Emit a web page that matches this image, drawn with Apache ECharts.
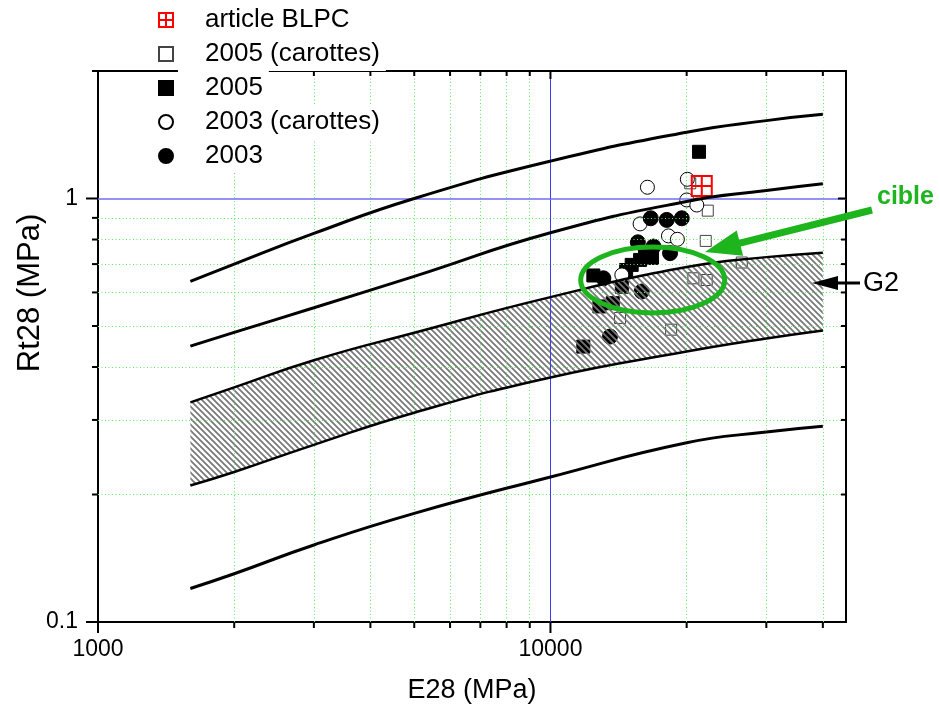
<!DOCTYPE html>
<html>
<head>
<meta charset="utf-8">
<title>Rt28 / E28</title>
<script src="https://cdn.jsdelivr.net/npm/echarts@6/dist/echarts.min.js"></script>
<style>
  html, body { margin: 0; padding: 0; background: #fff; }
  #chart { width: 940px; height: 708px; }
</style>
</head>
<body>
<div id="chart"></div>
<script>
// E28 (MPa) where the model curves are sampled
const curveE = [1600, 2000, 3000, 5000, 10000, 20000, 30000, 40000];
// Rt28 (MPa) of each curve, top to bottom
const curve1 = [0.637, 0.700, 0.827, 1.000, 1.225, 1.434, 1.527, 1.580];
const curve2 = [0.448, 0.483, 0.552, 0.655, 0.830, 0.984, 1.044, 1.083];
const bandUpper = [0.330, 0.358, 0.415, 0.482, 0.585, 0.689, 0.727, 0.745];
const bandLower = [0.210, 0.226, 0.262, 0.312, 0.378, 0.435, 0.467, 0.488];
const curve5 = [0.120, 0.130, 0.152, 0.1805, 0.220, 0.265, 0.281, 0.290];

// measured points [E28, Rt28]
const articleBLPC = [[21600, 1.070]];
const carottes2005 = [
    [20370, 1.086], [22270, 0.936], [22040, 0.794], [26480, 0.706],
    [20700, 0.648], [22150, 0.642], [18480, 0.490], [14250, 0.522]
];
const points2005 = [
    [21300, 1.289], [12440, 0.658], [15120, 0.697], [15780, 0.716],
    [16190, 0.736], [16770, 0.724], [14700, 0.678], [11820, 0.447],
    [12830, 0.556], [13730, 0.566], [14380, 0.619]
];
const carottes2003 = [
    [16380, 1.063], [20070, 1.110], [20010, 0.992], [21060, 0.965],
    [15780, 0.871], [18230, 0.816], [19080, 0.801], [14380, 0.660]
];
const points2003 = [
    [16660, 0.898], [18070, 0.890], [19510, 0.898], [15600, 0.788],
    [16890, 0.770], [18380, 0.743], [13090, 0.648], [15910, 0.603],
    [13540, 0.472]
];

const xMajorTicks = [1000, 10000];
const xMinorTicks = [2000, 3000, 4000, 5000, 6000, 7000, 8000, 9000, 20000, 30000, 40000];
const yMajorTicks = [0.1, 1];
const yMinorTicks = [0.2, 0.3, 0.4, 0.5, 0.6, 0.7, 0.8, 0.9, 2];
const xGridLines = [2000, 3000, 4000, 5000, 6000, 7000, 8000, 9000, 20000, 30000, 40000];
const yGridLines = [0.2, 0.3, 0.4, 0.5, 0.6, 0.7, 0.8, 0.9];

const FONT = 'Liberation Sans, Arial, sans-serif';
const GREEN = '#1db41d';

const pair = (xs, ys) => xs.map((x, i) => [x, ys[i]]);

// diagonal hatch used for the G2 band
function hatchPattern() {
    const s = 6;
    const c = document.createElement('canvas');
    c.width = s; c.height = s;
    const g = c.getContext('2d');
    g.strokeStyle = '#777777';
    g.lineWidth = 1.7;
    g.beginPath();
    g.moveTo(-1, -1); g.lineTo(s + 1, s + 1);
    g.moveTo(-1, s - 1); g.lineTo(1, s + 1);
    g.moveTo(s - 1, -1); g.lineTo(s + 1, 1);
    g.stroke();
    return { image: c, repeat: 'repeat' };
}
const hatch = hatchPattern();

const clamp = (v, a, b) => Math.min(Math.max(v, Math.min(a, b)), Math.max(a, b));

// same bezier smoothing as line series with smooth: true
function smoothPath(pts, smooth, first) {
    let d = '';
    let cx0, cy0;
    for (let i = 0; i < pts.length; i++) {
        const x = pts[i][0], y = pts[i][1];
        if (i === 0) {
            d += (first ? 'M' : 'L') + x + ',' + y;
            cx0 = x; cy0 = y;
            continue;
        }
        const px = pts[i - 1][0], py = pts[i - 1][1];
        let cx1 = x, cy1 = y, ncx = x, ncy = y;
        if (i < pts.length - 1) {
            const nx = pts[i + 1][0], ny = pts[i + 1][1];
            const l0 = Math.hypot(x - px, y - py);
            const l1 = Math.hypot(nx - x, ny - y);
            const r = l1 / (l0 + l1);
            let vx = nx - px, vy = ny - py;
            ncx = clamp(x + vx * smooth * r, nx, x);
            ncy = clamp(y + vy * smooth * r, ny, y);
            vx = ncx - x; vy = ncy - y;
            cx1 = clamp(x - vx * l0 / l1, px, x);
            cy1 = clamp(y - vy * l0 / l1, py, y);
            vx = x - cx1; vy = y - cy1;
            ncx = x + vx * l1 / l0;
            ncy = y + vy * l1 / l0;
        }
        d += 'C' + cx0 + ',' + cy0 + ',' + cx1 + ',' + cy1 + ',' + x + ',' + y;
        cx0 = ncx; cy0 = ncy;
    }
    return d;
}

// tick marks on all four sides: [x, y, length, orient] orient 0 = vertical, 1 = horizontal
const tickData = [];
xMajorTicks.forEach(v => { tickData.push([v, 0.1, 11, 0]); tickData.push([v, 2, 8, 0]); });
xMinorTicks.forEach(v => { tickData.push([v, 0.1, 6, 0]); tickData.push([v, 2, 5, 0]); });
yMajorTicks.forEach(v => { tickData.push([1000, v, 12, 1]); tickData.push([45000, v, 8, 1]); });
yMinorTicks.forEach(v => { tickData.push([1000, v, 6, 1]); tickData.push([45000, v, 5, 1]); });

const curveLine = (name, ys, width) => ({
    name: name,
    type: 'line',
    data: pair(curveE, ys),
    smooth: true,
    showSymbol: false,
    symbol: 'none',
    lineStyle: { color: '#000', width: width },
    z: 6,
    silent: true
});

const pointStyle = (fill, border) => ({ color: fill, borderColor: border, borderWidth: 1, opacity: 1 });

const option = {
    animation: false,
    backgroundColor: '#fff',
    textStyle: { fontFamily: FONT },
    grid: {
        left: 98, right: 94, top: 71, bottom: 86,
        outerBoundsMode: 'none',
        containLabel: false,
        show: true,
        borderColor: '#000',
        borderWidth: 2,
        backgroundColor: 'transparent'
    },
    legend: {
        orient: 'vertical',
        left: 158,
        top: 3,
        padding: 0,
        itemGap: 0,
        itemWidth: 14,
        itemHeight: 14,
        selectedMode: false,
        z: 8,
        data: ['article BLPC', '2005 (carottes)', '2005', '2003 (carottes)', '2003'],
        textStyle: {
            fontFamily: FONT,
            fontSize: 26,
            color: '#000',
            backgroundColor: '#fff',
            padding: [4, 6, 4, 27]
        }
    },
    xAxis: {
        type: 'log',
        logBase: 10,
        min: 1000,
        max: 45000,
        name: 'E28 (MPa)',
        nameLocation: 'middle',
        nameGap: 55,
        nameTextStyle: { fontFamily: FONT, fontSize: 27, color: '#000' },
        axisLine: { show: true, lineStyle: { color: '#000', width: 2 } },
        axisTick: { show: false },
        splitLine: { show: false },
        axisLabel: {
            fontFamily: FONT, fontSize: 23, color: '#000', margin: 16,
            showMaxLabel: false,
            formatter: v => String(Number((+v).toPrecision(2)))
        }
    },
    yAxis: {
        type: 'log',
        logBase: 10,
        min: 0.1,
        max: 2,
        axisLine: { show: true, lineStyle: { color: '#000', width: 2 } },
        axisTick: { show: false },
        splitLine: { show: false },
        axisLabel: {
            fontFamily: FONT, fontSize: 23, color: '#000', margin: 20,
            showMaxLabel: false,
            formatter: v => String(Number((+v).toPrecision(2)))
        }
    },
    series: [
        {
            name: 'gridlines',
            type: 'line',
            data: [[1000, 0.1]],
            symbol: 'none',
            lineStyle: { width: 0 },
            z: 1,
            silent: true,
            markLine: {
                silent: true,
                symbol: ['none', 'none'],
                label: { show: false },
                animation: false,
                lineStyle: { color: '#5fe85f', width: 1, type: [1, 2.5] },
                data: xGridLines.map(v => ({ xAxis: v }))
                    .concat(yGridLines.map(v => ({ yAxis: v })))
                    .concat([
                        { xAxis: 10000, lineStyle: { color: '#3c3cf5', width: 1, type: 'solid' } },
                        { yAxis: 1, lineStyle: { color: '#6f6ff0', width: 1.6, type: 'solid' } }
                    ])
            }
        },
        {
            name: '2005 (carottes)',
            type: 'scatter',
            data: carottes2005,
            symbol: 'rect',
            symbolSize: 11,
            itemStyle: pointStyle('#fff', '#444'),
            z: 2
        },
        {
            name: '2005',
            type: 'scatter',
            data: points2005,
            symbol: 'rect',
            symbolSize: 13,
            itemStyle: pointStyle('#000', '#000'),
            z: 2
        },
        {
            name: '2003 (carottes)',
            type: 'scatter',
            data: carottes2003,
            symbol: 'circle',
            symbolSize: 14,
            itemStyle: pointStyle('#fff', '#000'),
            z: 2
        },
        {
            name: '2003',
            type: 'scatter',
            data: points2003,
            symbol: 'circle',
            symbolSize: 15,
            itemStyle: pointStyle('#000', '#000'),
            z: 2
        },
        {
            name: 'article BLPC',
            type: 'scatter',
            data: articleBLPC,
            symbol: 'path://M0,0H20V20H0ZM10,0V20M0,10H20',
            symbolSize: 20,
            itemStyle: { color: 'rgba(255,255,255,0)', borderColor: '#ff0000', borderWidth: 2, opacity: 1 },
            z: 3
        },
        {
            name: 'G2 band',
            type: 'custom',
            coordinateSystem: 'cartesian2d',
            data: [[curveE[0], bandUpper[0]]],
            clip: false,
            silent: true,
            z: 4,
            renderItem: (params, api) => {
                const up = curveE.map((e, i) => api.coord([e, bandUpper[i]]));
                const lo = curveE.map((e, i) => api.coord([e, bandLower[i]])).reverse();
                const d = smoothPath(up, 0.5, true) + smoothPath(lo, 0.5, false) + 'Z';
                return { type: 'path', shape: { pathData: d }, style: { fill: hatch, stroke: null } };
            }
        },
        curveLine('curve 1', curve1, 3),
        curveLine('curve 2', curve2, 3),
        curveLine('band upper', bandUpper, 2.5),
        curveLine('band lower', bandLower, 2.5),
        curveLine('curve 5', curve5, 3),
        {
            name: 'ticks',
            type: 'custom',
            coordinateSystem: 'cartesian2d',
            data: tickData,
            encode: { x: 0, y: 1 },
            clip: false,
            silent: true,
            z: 7,
            renderItem: (params, api) => {
                const p = api.coord([api.value(0), api.value(1)]);
                const len = api.value(2);
                const horiz = api.value(3) === 1;
                return {
                    type: 'line',
                    shape: horiz
                        ? { x1: p[0] - len, y1: p[1], x2: p[0], y2: p[1] }
                        : { x1: p[0], y1: p[1], x2: p[0], y2: p[1] + len },
                    style: { stroke: '#000', lineWidth: 2 }
                };
            }
        }
    ]
};

// annotations: cible ellipse + arrows, G2 label, y axis title
const tip = [705, 252], tail = [872, 210];
const ux = (tip[0] - tail[0]), uy = (tip[1] - tail[1]);
const ul = Math.hypot(ux, uy);
const dx = ux / ul, dy = uy / ul;
const headLen = 36, headHalf = 13;
const base = [tip[0] - dx * headLen, tip[1] - dy * headLen];

option.graphic = [
    {
        type: 'text', x: 30, y: 293, rotation: Math.PI / 2,
        style: {
            text: 'Rt28 (MPa)', fontFamily: FONT, fontSize: 31, fill: '#000',
            textAlign: 'center', textVerticalAlign: 'middle', align: 'center', verticalAlign: 'middle'
        }
    },
    {
        type: 'ellipse', z: 100,
        shape: { cx: 652.7, cy: 280, rx: 72, ry: 33 },
        style: { fill: null, stroke: GREEN, lineWidth: 5 }
    },
    {
        type: 'line', z: 100,
        shape: { x1: tail[0], y1: tail[1], x2: base[0] + dx * 2, y2: base[1] + dy * 2 },
        style: { stroke: GREEN, lineWidth: 7 }
    },
    {
        type: 'polygon', z: 100,
        shape: {
            points: [
                tip,
                [base[0] - dy * headHalf, base[1] + dx * headHalf],
                [base[0] + dy * headHalf, base[1] - dx * headHalf]
            ]
        },
        style: { fill: GREEN }
    },
    {
        type: 'text', x: 877, y: 197, z: 100,
        style: {
            text: 'cible', fontFamily: FONT, fontSize: 25, fontWeight: 'bold', fill: GREEN,
            textVerticalAlign: 'middle', verticalAlign: 'middle'
        }
    },
    {
        type: 'line', z: 100,
        shape: { x1: 860, y1: 283, x2: 834, y2: 283 },
        style: { stroke: '#000', lineWidth: 3 }
    },
    {
        type: 'polygon', z: 100,
        shape: { points: [[812, 283], [838, 276], [838, 290]] },
        style: { fill: '#000' }
    },
    {
        type: 'text', x: 863, y: 284, z: 100,
        style: {
            text: 'G2', fontFamily: FONT, fontSize: 27, fill: '#000',
            textVerticalAlign: 'middle', verticalAlign: 'middle'
        }
    }
];

const myChart = echarts.init(document.getElementById('chart'), null, { renderer: 'canvas' });
myChart.setOption(option);
</script>
</body>
</html>
